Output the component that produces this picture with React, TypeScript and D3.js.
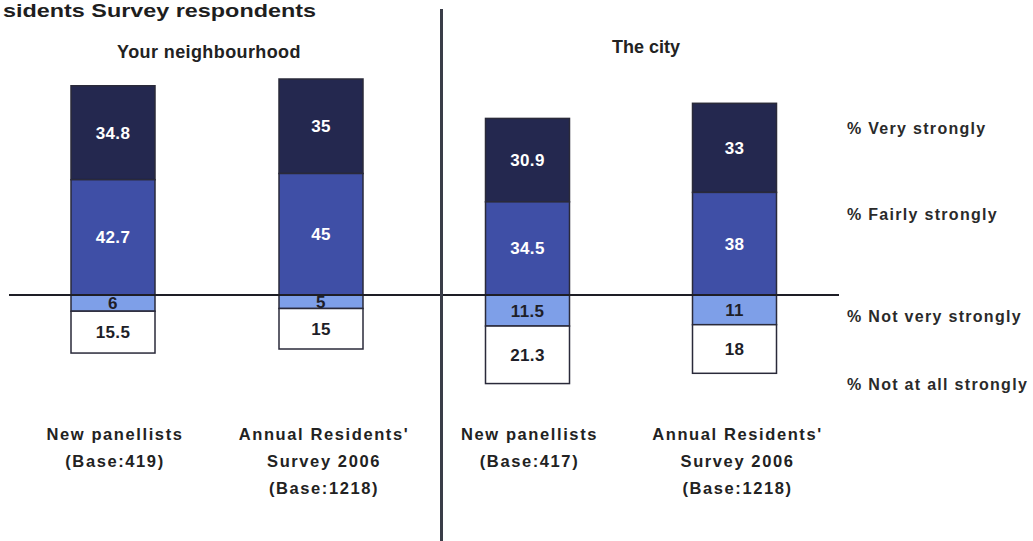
import React from "react";
import * as d3 from "d3";

const panels = ["Your neighbourhood", "The city"];
const groups = ["N1", "A1", "N2", "A2"];
const groupLabels = [
  ["New panellists", "(Base:419)"],
  ["Annual Residents'", "Survey 2006", "(Base:1218)"],
  ["New panellists", "(Base:417)"],
  ["Annual Residents'", "Survey 2006", "(Base:1218)"],
];
const veryStrongly = [34.8, 35, 30.9, 33];
const fairlyStrongly = [42.7, 45, 34.5, 38];
const notVeryStrongly = [6, 5, 11.5, 11];
const notAtAllStrongly = [15.5, 15, 21.3, 18];
const legendLabels = ["% Very strongly", "% Fairly strongly", "% Not very strongly", "% Not at all strongly"];
const titleVisible = "sidents Survey respondents";

const W = 1033;
const H = 541;
const font = "Arial, 'Liberation Sans', sans-serif";

export default function App() {
  const y = d3.scaleLinear().domain([-40, 80]).range([403, 79]);
  const x = d3.scaleOrdinal<string, number>().domain(groups).range([113, 321, 527.5, 734.5]);
  const bw = 84;
  const colors = ["#24284f", "#3f4fa6", "#7e9fe8", "#ffffff"];

  const bars: any[] = [];
  groups.forEach((g, i) => {
    const cx = x(g);
    const v = veryStrongly[i], f = fairlyStrongly[i], nv = notVeryStrongly[i], na = notAtAllStrongly[i];
    const segs = [
      { y0: f, y1: f + v, val: v, c: 0 },
      { y0: 0, y1: f, val: f, c: 1 },
      { y0: -nv, y1: 0, val: nv, c: 2 },
      { y0: -nv - na, y1: -nv, val: na, c: 3 },
    ];
    segs.forEach((s, j) => {
      const top = y(s.y1), bot = y(s.y0);
      bars.push(
        <g key={g + j}>
          <rect x={cx - bw / 2} y={top} width={bw} height={bot - top} fill={colors[s.c]} stroke="#2a2a3a" strokeWidth={1.5} />
          <text x={cx} y={(top + bot) / 2 + 6} textAnchor="middle" fontFamily={font} fontWeight="bold" fontSize={17}
            letterSpacing={0.3} fill={s.c < 2 ? "#ffffff" : "#1e1e28"}>{String(s.val)}</text>
        </g>
      );
    });
  });

  const legendY = [134, 220, 322, 390];

  return (
    <svg width={W} height={H} style={{ position: "absolute", left: 0, top: 0, background: "#fff" }}>
      <text x={3} y={17} fontFamily={font} fontWeight="bold" fontSize={18.5} textLength={313} lengthAdjust="spacingAndGlyphs" fill="#1e1e1e">
        {titleVisible}
      </text>
      <text x={209} y={58} textAnchor="middle" fontFamily={font} fontWeight="bold" fontSize={18} letterSpacing={0.4} fill="#222">{panels[0]}</text>
      <text x={646} y={53} textAnchor="middle" fontFamily={font} fontWeight="bold" fontSize={18} fill="#222">{panels[1]}</text>
      {bars}
      <line x1={9} x2={839} y1={y(0)} y2={y(0)} stroke="#1e1e26" strokeWidth={2} />
      <line x1={441.5} x2={441.5} y1={9} y2={H} stroke="#3a3d48" strokeWidth={3} />
      {legendLabels.map((l, i) => (
        <text key={l} x={847} y={legendY[i]} fontFamily={font} fontWeight="bold" fontSize={16} letterSpacing={1.3} fill="#2a2a2a">{l}</text>
      ))}
      {groupLabels.map((lines, i) => (
        <g key={i}>
          {lines.map((t, k) => (
            <text key={k} x={x(groups[i]) + (i === 1 || i === 3 ? 3 : 2)} y={440 + k * 27} textAnchor="middle" fontFamily={font}
              fontWeight="bold" fontSize={16.5} letterSpacing={1.6} fill="#222">{t}</text>
          ))}
        </g>
      ))}
    </svg>
  );
}
